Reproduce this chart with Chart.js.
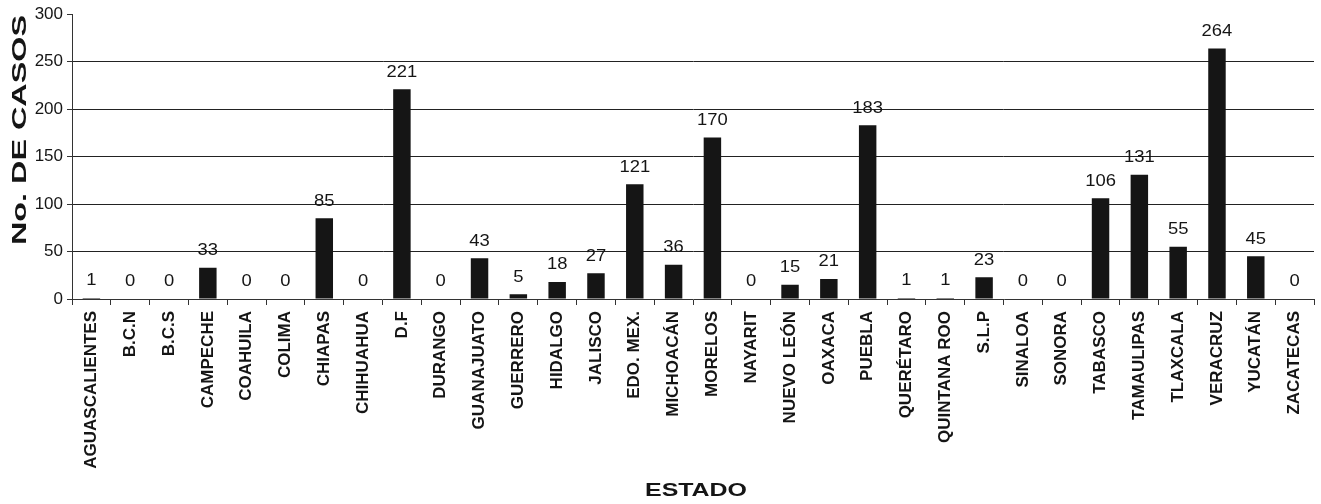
<!DOCTYPE html>
<html>
<head>
<meta charset="utf-8">
<script src="https://cdn.jsdelivr.net/npm/chart.js@4"></script>
<style>
    html, body { margin: 0; padding: 0; background: #fff; }
    #contenedor { width: 1321px; height: 504px; }
</style>
</head>
<body>
<div id="contenedor"><canvas id="graficaEstados" width="1321" height="504"></canvas></div>
<script>
    // Datos
    const estados = ['AGUASCALIENTES', 'B.C.N', 'B.C.S', 'CAMPECHE', 'COAHUILA', 'COLIMA', 'CHIAPAS', 'CHIHUAHUA',
        'D.F', 'DURANGO', 'GUANAJUATO', 'GUERRERO', 'HIDALGO', 'JALISCO', 'EDO. MEX.', 'MICHOACÁN',
        'MORELOS', 'NAYARIT', 'NUEVO LEÓN', 'OAXACA', 'PUEBLA', 'QUERÉTARO', 'QUINTANA ROO', 'S.L.P',
        'SINALOA', 'SONORA', 'TABASCO', 'TAMAULIPAS', 'TLAXCALA', 'VERACRUZ', 'YUCATÁN', 'ZACATECAS'];
    const casos = [1, 0, 0, 33, 0, 0, 85, 0,
        221, 0, 43, 5, 18, 27, 121, 36,
        170, 0, 15, 21, 183, 1, 1, 23,
        0, 0, 106, 131, 55, 264, 45, 0];
    const ticksY = [0, 50, 100, 150, 200, 250, 300];
    const tituloY = 'No. DE CASOS';
    const tituloX = 'ESTADO';

    const fuente = '"Liberation Sans", Arial, sans-serif';
    const negro = '#151515';

    // Etiquetas con el valor encima de cada barra
    const etiquetasValor = {
        id: 'etiquetasValor',
        afterDatasetsDraw(chart) {
            const ctx = chart.ctx;
            const meta = chart.getDatasetMeta(0);
            ctx.save();
            ctx.font = '16px ' + fuente;
            ctx.fillStyle = negro;
            ctx.textAlign = 'center';
            ctx.textBaseline = 'bottom';
            meta.data.forEach((barra, i) => {
                ctx.save();
                ctx.translate(barra.x, barra.y - 9);
                ctx.scale(1.15, 1);
                ctx.fillText(String(casos[i]), 0, 0);
                ctx.restore();
            });
            ctx.restore();
        }
    };

    // Titulos de los ejes (el original sale estirado)
    const titulosEjes = {
        id: 'titulosEjes',
        afterDraw(chart) {
            const ctx = chart.ctx;
            const area = chart.chartArea;
            ctx.save();
            ctx.fillStyle = negro;
            ctx.textAlign = 'center';
            ctx.textBaseline = 'middle';

            // eje Y
            ctx.font = 'bold 21px ' + fuente;
            let ancho = ctx.measureText(tituloY).width;
            ctx.save();
            ctx.translate(20, 130);
            ctx.rotate(-Math.PI / 2);
            ctx.scale(230 / ancho, 1);
            ctx.fillText(tituloY, 0, 0);
            ctx.restore();

            // eje X
            ctx.font = 'bold 19px ' + fuente;
            ancho = ctx.measureText(tituloX).width;
            ctx.save();
            ctx.translate((area.left + area.right) / 2 + 3, 491);
            ctx.scale(102 / ancho, 1);
            ctx.fillText(tituloX, 0, 0);
            ctx.restore();

            ctx.restore();
        }
    };

    const ctx = document.getElementById('graficaEstados').getContext('2d');
    const chart = new Chart(ctx, {
        type: 'bar',
        data: {
            labels: estados,
            datasets: [{
                label: tituloY,
                data: casos,
                backgroundColor: negro,
                borderWidth: 0,
                barPercentage: 0.45,
                categoryPercentage: 1
            }]
        },
        options: {
            responsive: false,
            animation: false,
            layout: { padding: { top: 14, right: 0, left: 0, bottom: 0 } },
            plugins: {
                legend: { display: false },
                tooltip: { enabled: false }
            },
            scales: {
                x: {
                    grid: {
                        offset: true,
                        drawOnChartArea: false,
                        tickLength: 6,
                        tickColor: '#333'
                    },
                    border: { display: true, color: '#333', width: 1 },
                    ticks: {
                        autoSkip: false,
                        maxRotation: 90,
                        minRotation: 90,
                        padding: 6,
                        color: negro,
                        font: { family: fuente, size: 17, weight: 'bold' }
                    },
                    afterFit: (escala) => { escala.height = 205; }
                },
                y: {
                    min: 0,
                    max: 300,
                    afterBuildTicks: (escala) => { escala.ticks = ticksY.map(v => ({ value: v })); },
                    grid: {
                        color: (c) => (c.tick && (c.tick.value === 300 || c.tick.value === 0)) ? 'rgba(0,0,0,0)' : '#222',
                        lineWidth: 1,
                        tickLength: 5,
                        tickColor: '#333'
                    },
                    border: { display: true, color: '#333', width: 1 },
                    ticks: {
                        padding: 4,
                        color: negro,
                        font: { family: fuente, size: 17 }
                    },
                    afterFit: (escala) => { escala.width = 72; }
                }
            }
        },
        plugins: [etiquetasValor, titulosEjes]
    });
</script>
</body>
</html>
